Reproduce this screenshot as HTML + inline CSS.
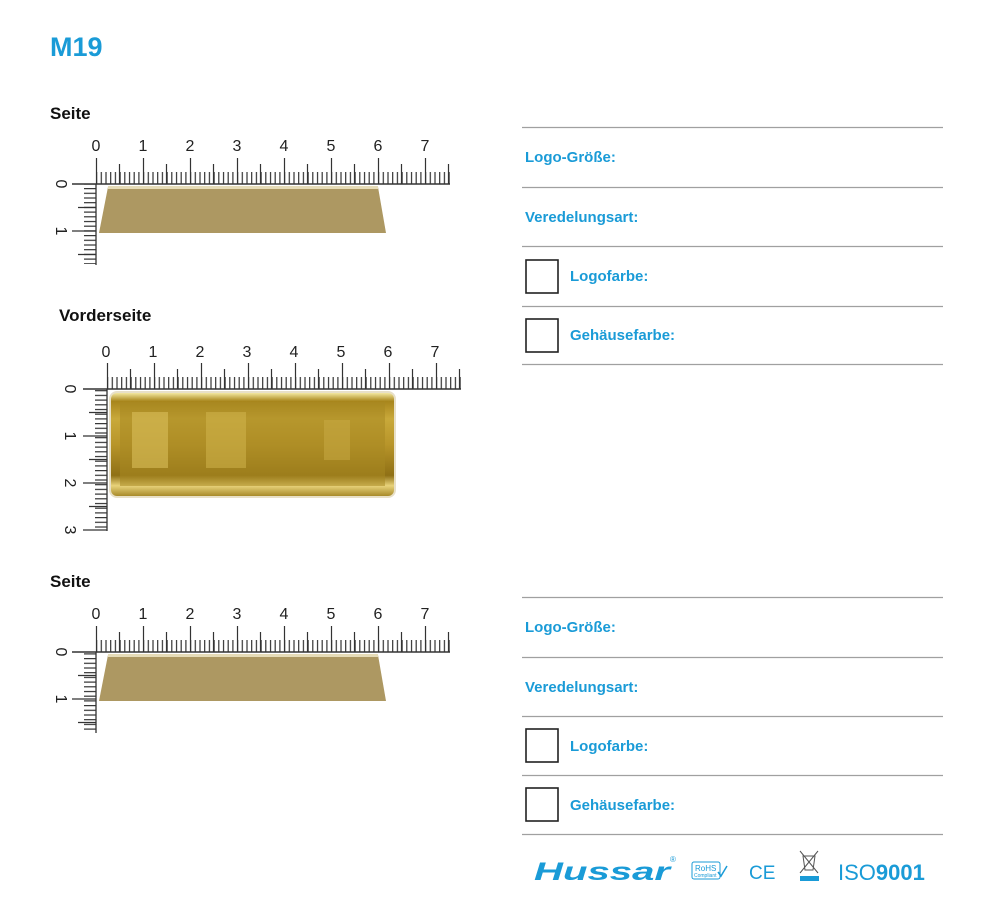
<!DOCTYPE html>
<html><head><meta charset="utf-8"><style>
body{margin:0;background:#fff;width:1000px;height:917px;overflow:hidden;font-family:"Liberation Sans",sans-serif}
</style></head><body>
<svg width="1000" height="917" viewBox="0 0 1000 917" xmlns="http://www.w3.org/2000/svg" font-family="Liberation Sans, sans-serif">
<defs>
<pattern id="hm" x="0" y="0" width="4.7" height="20" patternUnits="userSpaceOnUse"><rect x="0" y="0" width="1.2" height="20" fill="#333"/></pattern>
<pattern id="vm" x="0" y="0" width="20" height="4.7" patternUnits="userSpaceOnUse"><rect x="0" y="0" width="20" height="1.2" fill="#333"/></pattern>
<g id="hr">
<rect x="0" y="-12" width="354" height="12" fill="url(#hm)"/>
<path d="M-24 0H354" stroke="#333" stroke-width="1.4"/>
<path d="M23.5 0v-20M70.5 0v-20M117.5 0v-20M164.5 0v-20M211.5 0v-20M258.5 0v-20M305.5 0v-20M352.5 0v-20" stroke="#333" stroke-width="1.2"/>
<path d="M0.5 0v-26M47.5 0v-26M94.5 0v-26M141.5 0v-26M188.5 0v-26M235.5 0v-26M282.5 0v-26M329.5 0v-26" stroke="#333" stroke-width="1.2"/>
</g>
<linearGradient id="gold" x1="0" y1="0" x2="0" y2="1">
<stop offset="0" stop-color="#f3e7a0"/><stop offset="0.08" stop-color="#a8861c"/><stop offset="0.25" stop-color="#c9a93a"/><stop offset="0.5" stop-color="#b8952a"/><stop offset="0.8" stop-color="#8f7015"/><stop offset="0.9" stop-color="#e8d27a"/><stop offset="1" stop-color="#a88a2a"/>
</linearGradient>
</defs>

<text x="50" y="56" font-size="27" font-weight="bold" fill="#1a9bd7">M19</text>

<!-- Section 1 -->
<text x="50" y="119" font-size="17" font-weight="bold" fill="#111">Seite</text>
<g font-size="16" fill="#222" text-anchor="middle">
<text x="96" y="151">0</text><text x="143" y="151">1</text><text x="190" y="151">2</text><text x="237" y="151">3</text><text x="284" y="151">4</text><text x="331" y="151">5</text><text x="378" y="151">6</text><text x="425" y="151">7</text>
</g>
<use href="#hr" transform="translate(96,184)"/>
<rect x="84" y="184" width="12" height="80" fill="url(#vm)"/>
<path d="M96 184V265M78 207.5h18M78 254.5h18M72 231h24" stroke="#333" stroke-width="1.3"/>
<text transform="translate(56,184) rotate(90)" font-size="16" text-anchor="middle" fill="#222">0</text>
<text transform="translate(56,231) rotate(90)" font-size="16" text-anchor="middle" fill="#222">1</text>
<polygon points="108,187 378,187 386,233 99,233" fill="#ad9862"/>
<rect x="108" y="186" width="270" height="3" fill="#e6dcb8"/>

<!-- Section 2 -->
<text x="59" y="321" font-size="17" font-weight="bold" fill="#111">Vorderseite</text>
<g font-size="16" fill="#222" text-anchor="middle">
<text x="106" y="357">0</text><text x="153" y="357">1</text><text x="200" y="357">2</text><text x="247" y="357">3</text><text x="294" y="357">4</text><text x="341" y="357">5</text><text x="388" y="357">6</text><text x="435" y="357">7</text>
</g>
<use href="#hr" transform="translate(107,389)"/>
<rect x="95" y="389" width="12" height="141" fill="url(#vm)"/>
<path d="M107 389V531M89 412.5h18M89 459.5h18M89 506.5h18M83 436h24M83 483h24M83 530h24" stroke="#333" stroke-width="1.3"/>
<text transform="translate(65,389) rotate(90)" font-size="16" text-anchor="middle" fill="#222">0</text>
<text transform="translate(65,436) rotate(90)" font-size="16" text-anchor="middle" fill="#222">1</text>
<text transform="translate(65,483) rotate(90)" font-size="16" text-anchor="middle" fill="#222">2</text>
<text transform="translate(65,530) rotate(90)" font-size="16" text-anchor="middle" fill="#222">3</text>
<rect x="109" y="391" width="287" height="107" rx="8" fill="#e8e0c8"/>
<rect x="111" y="393" width="283" height="103" rx="6" fill="url(#gold)"/>
<rect x="120" y="402" width="265" height="84" fill="#a88922" opacity="0.55"/>
<rect x="132" y="412" width="36" height="56" fill="#d8be5a" opacity="0.6"/>
<rect x="206" y="412" width="40" height="56" fill="#d4b850" opacity="0.5"/>
<rect x="324" y="420" width="26" height="40" fill="#c9ac45" opacity="0.5"/>

<!-- Section 3 -->
<text x="50" y="587" font-size="17" font-weight="bold" fill="#111">Seite</text>
<g font-size="16" fill="#222" text-anchor="middle">
<text x="96" y="619">0</text><text x="143" y="619">1</text><text x="190" y="619">2</text><text x="237" y="619">3</text><text x="284" y="619">4</text><text x="331" y="619">5</text><text x="378" y="619">6</text><text x="425" y="619">7</text>
</g>
<use href="#hr" transform="translate(96,652)"/>
<rect x="84" y="652" width="12" height="80" fill="url(#vm)"/>
<path d="M96 652V733M78 675.5h18M78 722.5h18M72 699h24" stroke="#333" stroke-width="1.3"/>
<text transform="translate(56,652) rotate(90)" font-size="16" text-anchor="middle" fill="#222">0</text>
<text transform="translate(56,699) rotate(90)" font-size="16" text-anchor="middle" fill="#222">1</text>
<polygon points="108,655 378,655 386,701 99,701" fill="#ad9862"/>
<rect x="108" y="654" width="270" height="3" fill="#e6dcb8"/>

<!-- Right forms -->
<g stroke="#a0a0a0" stroke-width="1.2">
<path d="M522 127.5H943M522 187.5H943M522 246.5H943M522 306.5H943M522 364.5H943"/>
<path d="M522 597.5H943M522 657.5H943M522 716.5H943M522 775.5H943M522 834.5H943"/>
</g>
<g font-size="15" font-weight="bold" fill="#1a9bd7">
<text x="525" y="162">Logo-Größe:</text>
<text x="525" y="222">Veredelungsart:</text>
<text x="570" y="281">Logofarbe:</text>
<text x="570" y="340">Gehäusefarbe:</text>
<text x="525" y="632">Logo-Größe:</text>
<text x="525" y="692">Veredelungsart:</text>
<text x="570" y="751">Logofarbe:</text>
<text x="570" y="810">Gehäusefarbe:</text>
</g>
<g fill="none" stroke="#222" stroke-width="1.6">
<rect x="526" y="260" width="32" height="33"/>
<rect x="526" y="319" width="32" height="33"/>
<rect x="526" y="729" width="32" height="33"/>
<rect x="526" y="788" width="32" height="33"/>
</g>

<!-- logos -->
<text x="534" y="880" font-size="25" font-weight="bold" font-style="italic" fill="#1a9bd7" textLength="136" lengthAdjust="spacingAndGlyphs">Hussar</text>
<text x="670" y="862" font-size="8" fill="#1a9bd7">®</text>
<rect x="692" y="862" width="28" height="17" rx="2" fill="none" stroke="#1a9bd7" stroke-width="1"/>
<text x="695" y="871" font-size="8" fill="#1a9bd7">RoHS</text>
<text x="694" y="877" font-size="5" fill="#1a9bd7">Compliant</text>
<path d="M718 872l3 4 6-10" fill="none" stroke="#1a9bd7" stroke-width="1.5"/>
<text x="749" y="879" font-size="19" fill="#1a9bd7">CE</text>
<path d="M800 851l18 22M818 851l-18 22M803 856h12l-2 14h-8z" fill="none" stroke="#555" stroke-width="1"/>
<rect x="800" y="876" width="19" height="5" fill="#1a9bd7"/>
<text x="838" y="880" font-size="22" fill="#1a9bd7">ISO<tspan font-weight="bold">9001</tspan></text>
</svg>
</body></html>
